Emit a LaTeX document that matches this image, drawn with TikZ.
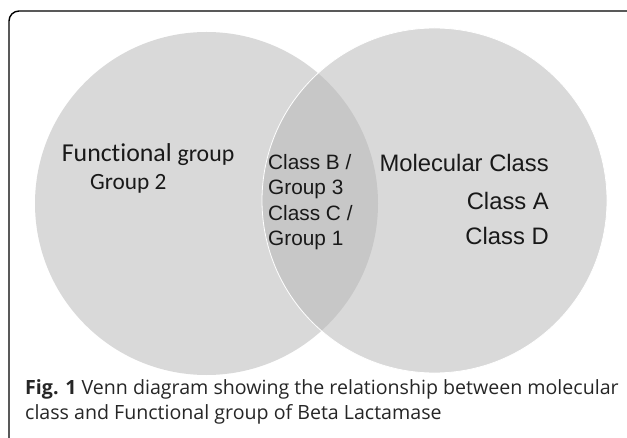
\documentclass[tikz,border=0pt]{standalone}
\usepackage{fontspec}
\setmainfont{Liberation Sans}
\newfontfamily\calibrifont[Ligatures=NoCommon]{Carlito}
\newfontfamily\captionfont{Open Sans}
\definecolor{venngray}{RGB}{183,183,183}

\begin{document}
\begin{tikzpicture}[x=1bp, y=-1bp,
    funclbl/.style={anchor=base west, inner sep=0pt, font=\calibrifont, text=black!90},
    lenslbl/.style={anchor=base west, inner sep=0pt, font=\fontsize{20.8bp}{24bp}\selectfont, text=black!90},
    mollbl/.style={anchor=base east, inner sep=0pt, font=\fontsize{23.8bp}{28bp}\selectfont, text=black!90},
    caplbl/.style={anchor=base west, inner sep=0pt, font=\captionfont\fontsize{19.6bp}{22bp}\selectfont, text=black!85}]
      \useasboundingbox (0,0) rectangle (627,438);
      % Draw the frame
      \draw[line width=1.4bp, rounded corners=10bp] (9,445) -- (9,11) -- (632,11);
      % Draw the circles
      \fill[venngray, fill opacity=0.53] (206.5,203.5) circle[radius=171.5];
      \fill[venngray, fill opacity=0.53] (434.5,200.5) circle[radius=172.5];
      \draw[white, line width=0.8bp] (434.5,200.5) circle[radius=172.5];
      % Draw the functional group labels
      \node[funclbl] (func) at (61.7, 161.7) {\fontsize{25.8bp}{30bp}\selectfont Functional \fontsize{23.8bp}{28bp}\selectfont group};
      \node[funclbl] (grp2) at (90, 190) {\fontsize{23.3bp}{28bp}\selectfont Group 2};
      % Draw the overlap labels
      \node[lenslbl] (clsB) at (268, 169.5) {Class B /};
      \node[lenslbl] (grp3) at (268, 195) {Group 3};
      \node[lenslbl] (clsC) at (268, 220.5) {Class C /};
      \node[lenslbl] (grp1) at (268, 246) {Group 1};
      % Draw the molecular class labels
      \node[mollbl] (mol) at (549, 172) {Molecular Class};
      \node[mollbl] (clsA) at (549, 210) {Class A};
      \node[mollbl] (clsD) at (549, 244.5) {Class D};
      % Draw the caption
      \node[caplbl] (cap1) at (25, 394) {\textbf{Fig. 1} Venn diagram showing the relationship between molecular};
      \node[caplbl] (cap2) at (25, 419) {class and Functional group of Beta Lactamase};
\end{tikzpicture}
\end{document}
